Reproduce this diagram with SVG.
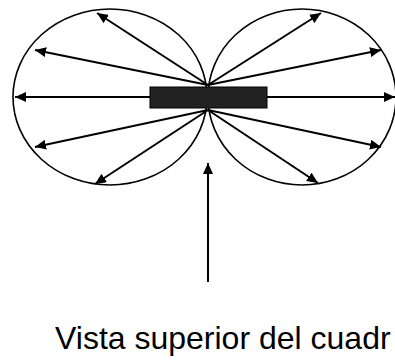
<svg xmlns="http://www.w3.org/2000/svg" width="395" height="360" viewBox="0 0 395 360">
<defs>
<marker id="ah" markerUnits="userSpaceOnUse" markerWidth="12" markerHeight="10" refX="11" refY="5" orient="auto">
<path d="M0,0 L11,5 L0,10 Z" fill="#000"/>
</marker>
<style>
.lobe{fill:none;stroke:#000;stroke-width:1.6}
.arr{stroke:#000;stroke-width:2;fill:none;marker-end:url(#ah)}
.lbl{font-family:"Liberation Sans",Arial,sans-serif;font-size:32px;fill:#000}
</style>
</defs>
<rect width="395" height="360" fill="#fff"/>
<g id="lobes">
<ellipse class="lobe" cx="110" cy="97" rx="97" ry="88"/>
<ellipse class="lobe" cx="302" cy="97" rx="94" ry="88"/>
</g>
<g id="connectors">
<line class="arr" x1="208" y1="85" x2="97" y2="13"/>
<line class="arr" x1="208" y1="85" x2="35" y2="50"/>
<line class="arr" x1="150" y1="97" x2="15" y2="97"/>
<line class="arr" x1="208" y1="110" x2="35" y2="147"/>
<line class="arr" x1="208" y1="110" x2="95" y2="184"/>
<line class="arr" x1="208" y1="85" x2="321" y2="13"/>
<line class="arr" x1="208" y1="85" x2="381" y2="50"/>
<line class="arr" x1="267" y1="97" x2="395" y2="97"/>
<line class="arr" x1="208" y1="110" x2="381" y2="147"/>
<line class="arr" x1="208" y1="110" x2="318" y2="183"/>
<line class="arr" x1="208" y1="282" x2="208" y2="163"/>
</g>
<g id="element">
<rect x="150" y="87" width="117" height="21" fill="#222" stroke="#000" stroke-width="1"/>
</g>
<g id="caption">
<text class="lbl" x="55" y="349">Vista superior del cuadr</text>
</g>
</svg>
